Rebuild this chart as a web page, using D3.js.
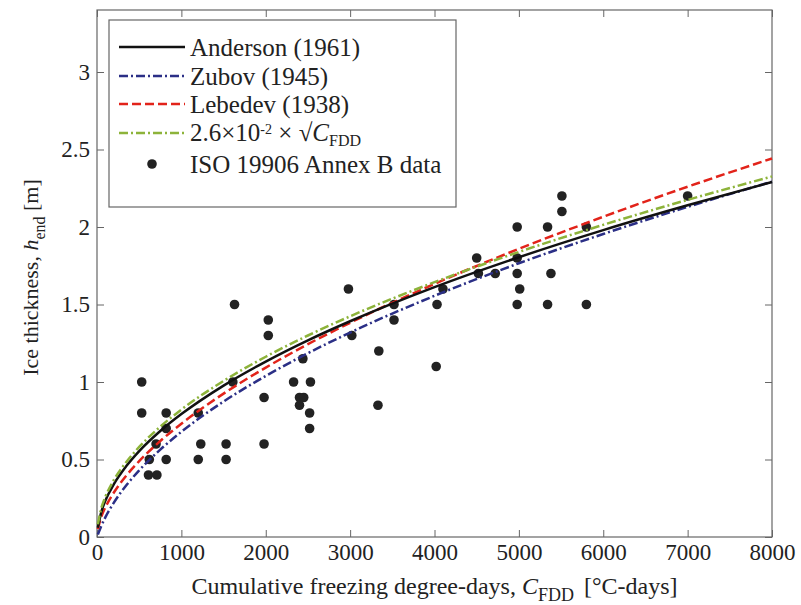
<!DOCTYPE html>
<html>
<head>
<meta charset="utf-8">
<script src="https://cdn.jsdelivr.net/npm/d3@7"></script>
<style>
  body { margin: 0; background: #fff; }
  svg { font-family: "Liberation Serif", "DejaVu Serif", serif; }
</style>
</head>
<body>
<div id="chart"></div>
<script>
// freezing degree-days at which the curves were read
let c_fdd = [10, 50, 100, 200, 350, 500, 750, 1000, 1500, 2000, 2500, 3000, 4000, 5000, 6000, 7000, 8000];

// ice thickness [m]
let anderson = [0.06, 0.159, 0.235, 0.341, 0.459, 0.554, 0.684, 0.793, 0.977, 1.132, 1.269, 1.392, 1.612, 1.805, 1.98, 2.14, 2.29];
let zubov    = [0.016, 0.07, 0.128, 0.222, 0.335, 0.43, 0.564, 0.679, 0.874, 1.039, 1.186, 1.319, 1.556, 1.766, 1.955, 2.13, 2.292];
let lebedev  = [0.051, 0.129, 0.192, 0.287, 0.398, 0.489, 0.619, 0.731, 0.925, 1.093, 1.244, 1.382, 1.633, 1.859, 2.066, 2.26, 2.442];
let sqrt_fit = [0.082, 0.184, 0.26, 0.368, 0.486, 0.581, 0.712, 0.822, 1.007, 1.163, 1.3, 1.424, 1.644, 1.839, 2.014, 2.175, 2.326];

// ISO 19906 Annex B points
let iso_c = [530, 530, 820, 820, 700, 620, 820, 610, 710, 1200, 1230, 1200, 1530, 1530, 1630, 1610, 1980, 1980,
             2030, 2030, 2330, 2440, 2530, 2400, 2450, 2400, 2520, 2520, 2980, 3020, 3340, 3330, 3520, 3520,
             4030, 4020, 4100, 4500, 4520, 4720, 4980, 4980, 4980, 5010, 4980, 5340, 5380, 5340, 5510, 5510,
             5800, 5800, 7000];
let iso_h = [1.0, 0.8, 0.8, 0.7, 0.6, 0.5, 0.5, 0.4, 0.4, 0.8, 0.6, 0.5, 0.6, 0.5, 1.5, 1.0, 0.9, 0.6,
             1.4, 1.3, 1.0, 1.15, 1.0, 0.9, 0.9, 0.85, 0.8, 0.7, 1.6, 1.3, 1.2, 0.85, 1.5, 1.4,
             1.5, 1.1, 1.6, 1.8, 1.7, 1.7, 2.0, 1.8, 1.7, 1.6, 1.5, 2.0, 1.7, 1.5, 2.2, 2.1,
             2.0, 1.5, 2.2];

let x_ticks = [0, 1000, 2000, 3000, 4000, 5000, 6000, 7000, 8000];
let y_ticks = [0, 0.5, 1, 1.5, 2, 2.5, 3];

let svg_width = 801;
let svg_height = 605;
let margin = {left: 97, right: 29, top: 10, bottom: 68};
let plot_w = svg_width - margin.left - margin.right;
let plot_h = svg_height - margin.top - margin.bottom;

let svg = d3.select('#chart')
    .append('svg')
    .attr('width', svg_width)
    .attr('height', svg_height);

let g = svg.append('g').attr('transform', `translate(${margin.left},${margin.top})`);

let x = d3.scaleLinear().domain([0, 8000]).range([0, plot_w]);
let y = d3.scaleLinear().domain([0, 3.4]).range([plot_h, 0]);

// axes, ticks pointing inward like matlab
let axis_color = '#666';
function style_axis(sel){
    sel.select('.domain').remove();
    sel.selectAll('line').attr('stroke', axis_color);
    sel.selectAll('text').attr('font-size', 23).attr('fill', '#222')
        .attr('font-family', '"Liberation Serif", serif');
}
g.append('g').attr('transform', `translate(0,${plot_h})`)
    .call(d3.axisBottom(x).tickValues(x_ticks).tickSize(-7).tickPadding(7).tickFormat(d3.format('d')))
    .call(style_axis);
g.append('g')
    .call(d3.axisTop(x).tickValues(x_ticks).tickSize(-7).tickFormat(''))
    .call(style_axis);
g.append('g')
    .call(d3.axisLeft(y).tickValues(y_ticks).tickSize(-7).tickPadding(7).tickFormat(d => d))
    .call(style_axis);
g.append('g').attr('transform', `translate(${plot_w},0)`)
    .call(d3.axisRight(y).tickValues(y_ticks).tickSize(-7).tickFormat(''))
    .call(style_axis);

g.append('rect')
    .attr('width', plot_w).attr('height', plot_h)
    .attr('fill', 'none').attr('stroke', axis_color).attr('stroke-width', 1.2);

// scatter data
let pts = iso_c.map((c, i) => ({c: c, h: iso_h[i]}));
g.selectAll('circle.iso')
    .data(pts)
    .enter()
    .append('circle')
    .attr('class', 'iso')
    .attr('cx', d => x(d.c))
    .attr('cy', d => y(d.h))
    .attr('r', 4.8)
    .attr('fill', '#222');

// curves
let series = [
    {name: 'Anderson (1961)', vals: anderson, color: '#111', dash: null},
    {name: 'Zubov (1945)', vals: zubov, color: '#2b2f86', dash: '9,3,2,3'},
    {name: 'Lebedev (1938)', vals: lebedev, color: '#e2231a', dash: '9,4'},
    {name: 'fit', vals: sqrt_fit, color: '#8db33a', dash: '9,3,2,3'}
];
let line = d3.line().x(d => x(d[0])).y(d => y(d[1])).curve(d3.curveMonotoneX);

// draw order: blue, red, black, green on top
[1, 2, 0, 3].forEach(i => {
    let s = series[i];
    g.append('path')
        .datum(c_fdd.map((c, j) => [c, s.vals[j]]))
        .attr('d', line)
        .attr('fill', 'none')
        .attr('stroke', s.color)
        .attr('stroke-width', 2.5)
        .attr('stroke-dasharray', s.dash);
});

// legend
let leg = svg.append('g').attr('transform', 'translate(109,20)');
leg.append('rect')
    .attr('width', 347).attr('height', 187)
    .attr('fill', '#fff').attr('stroke', axis_color).attr('stroke-width', 1.2);
let row_y = [27, 56, 84, 113, 144];
series.forEach((s, i) => {
    leg.append('line')
        .attr('x1', 10).attr('x2', 76)
        .attr('y1', row_y[i]).attr('y2', row_y[i])
        .attr('stroke', s.color).attr('stroke-width', 2.5)
        .attr('stroke-dasharray', s.dash);
});
leg.append('circle').attr('cx', 43).attr('cy', row_y[4]).attr('r', 4.8).attr('fill', '#222');

let leg_text = leg.selectAll('text.lbl')
    .data(['Anderson (1961)', 'Zubov (1945)', 'Lebedev (1938)', '', 'ISO 19906 Annex B data'])
    .enter()
    .append('text')
    .attr('class', 'lbl')
    .attr('x', 81)
    .attr('y', (d, i) => row_y[i] + 9)
    .attr('font-size', 25)
    .attr('fill', '#222')
    .text(d => d);

let fit_lbl = leg.append('text').attr('x', 81).attr('y', row_y[3] + 8).attr('font-size', 25).attr('fill', '#222');
fit_lbl.append('tspan').text('2.6×10');
fit_lbl.append('tspan').attr('dy', -7).attr('font-size', 14).text('-2');
fit_lbl.append('tspan').attr('dy', 7).text(' × √');
fit_lbl.append('tspan').attr('font-style', 'italic').text('C');
fit_lbl.append('tspan').attr('dy', 5).attr('font-size', 16).text('FDD');

// axis titles
let xt = svg.append('text')
    .attr('x', margin.left + plot_w / 2)
    .attr('y', 594)
    .attr('text-anchor', 'middle')
    .attr('font-size', 24)
    .attr('fill', '#222');
xt.append('tspan').text('Cumulative freezing degree-days, ');
xt.append('tspan').attr('font-style', 'italic').text('C');
xt.append('tspan').attr('dy', 7).attr('font-size', 18).text('FDD');
xt.append('tspan').attr('dy', -7).attr('dx', 10).text('[°C-days]');

let yt = svg.append('text')
    .attr('transform', `translate(38,${margin.top + plot_h / 2 + 4}) rotate(-90)`)
    .attr('text-anchor', 'middle')
    .attr('font-size', 22)
    .attr('fill', '#222');
yt.append('tspan').text('Ice thickness, ');
yt.append('tspan').attr('font-style', 'italic').text('h');
yt.append('tspan').attr('dy', 7).attr('font-size', 16).text('end');
yt.append('tspan').attr('dy', -7).text(' [m]');
</script>
</body>
</html>
